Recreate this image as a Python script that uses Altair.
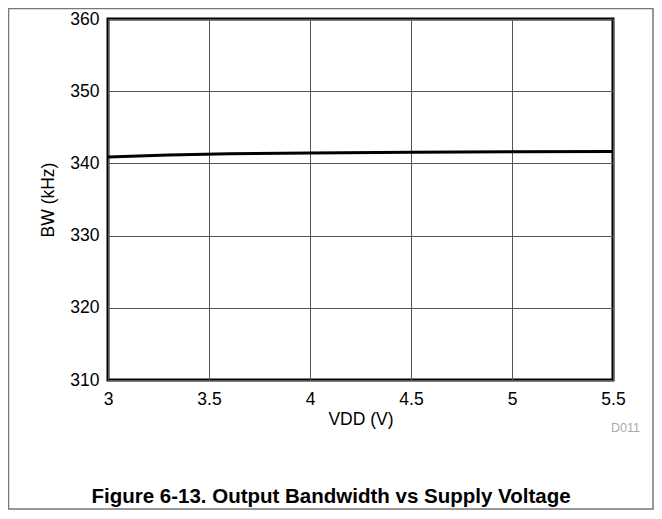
import altair as alt
import pandas as pd

vdd = [3.0, 3.3, 3.6, 4.0, 4.5, 5.0, 5.5]
bw = [340.9, 341.15, 341.35, 341.45, 341.55, 341.62, 341.65]

x_ticks = [3, 3.5, 4, 4.5, 5, 5.5]
y_ticks = [310, 320, 330, 340, 350, 360]

title_text = "Figure 6-13. Output Bandwidth vs Supply Voltage"
code_text = "D011"

df = pd.DataFrame({"vdd": vdd, "bw": bw})

W, H = 505, 361
FONT = "Liberation Sans"
FS = 17.5

x = alt.X("vdd:Q", scale=alt.Scale(domain=[3, 5.5], nice=False),
          axis=alt.Axis(values=x_ticks, title="VDD (V)", format="~g",
                        labelFontSize=FS, titleFontSize=FS, titleFontWeight="normal",
                        labelPadding=10, titlePadding=3, ticks=False,
                        domain=False, gridColor="#555", gridWidth=1,
                        labelColor="#000", titleColor="#000", labelFlush=False))
y = alt.Y("bw:Q", scale=alt.Scale(domain=[310, 360], nice=False, zero=False),
          axis=alt.Axis(values=y_ticks, title="BW (kHz)", format="d",
                        labelFontSize=FS, titleFontSize=FS, titleFontWeight="normal",
                        labelPadding=9, titlePadding=12, ticks=False,
                        domain=False, gridColor="#555", gridWidth=1,
                        labelColor="#000", titleColor="#000"))

line = alt.Chart(df).mark_line(color="#000", strokeWidth=3, clip=True).encode(x=x, y=y)

note = alt.Chart(pd.DataFrame({"t": [code_text]})).mark_text(
    font=FONT, fontSize=12.5, color="#aaa", align="right", baseline="middle"
).encode(x=alt.value(W + 27), y=alt.value(H + 48), text="t:N")

ttl = alt.Chart(pd.DataFrame({"t": [title_text]})).mark_text(
    font=FONT, fontSize=20.5, fontWeight="bold", color="#000", align="center",
    baseline="middle"
).encode(x=alt.value(223), y=alt.value(478), text="t:N")

frame = alt.Chart(pd.DataFrame({"a": [0]})).mark_rect(
    fill=None, stroke="#777", strokeWidth=1.5, clip=False
).encode(x=alt.value(-99.5), x2=alt.value(W + 40), y=alt.value(-10.5), y2=alt.value(H + 129))

chart = alt.layer(line, note, ttl, frame).properties(
    width=W, height=H,
    autosize=alt.AutoSizeParams(type="none"),
    padding={"left": 100, "top": 11, "right": 41, "bottom": 131},
    background="white",
).configure_view(
    stroke="#000", strokeWidth=3
).configure_axis(
    labelFont=FONT, titleFont=FONT
)

chart.save("out.html", embed_options={"renderer": "svg", "actions": False})
